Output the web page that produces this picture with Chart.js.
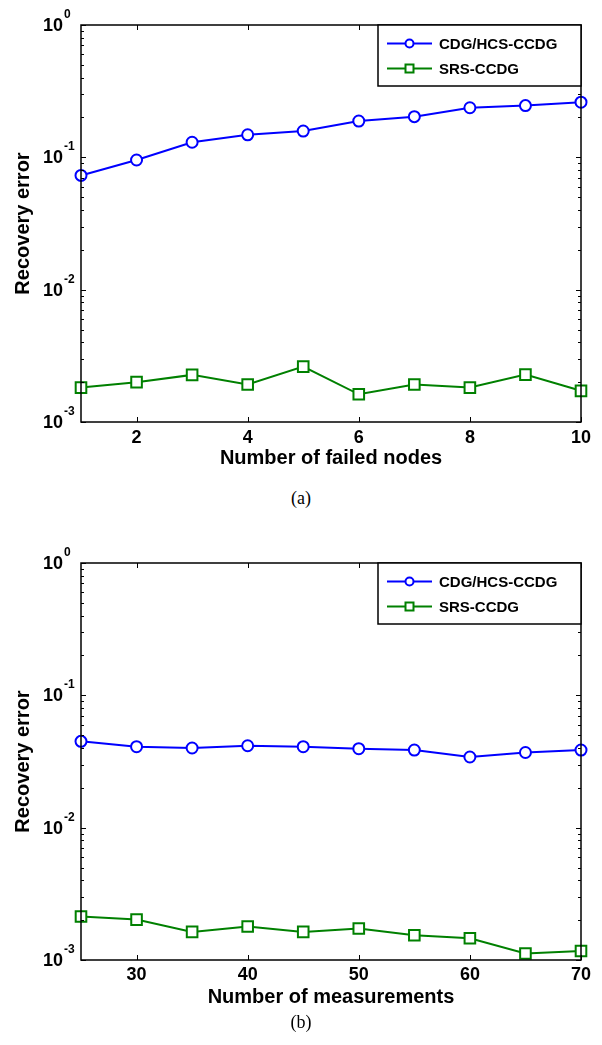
<!DOCTYPE html>
<html>
<head>
<meta charset="utf-8">
<script src="https://cdn.jsdelivr.net/npm/chart.js@4/dist/chart.umd.min.js"></script>
<style>
  body { margin: 0; background: #fff; }
  #page { position: relative; width: 602px; height: 1045px; }
  .box { position: absolute; left: 0; }
  .cap { position: absolute; left: 0; width: 602px; text-align: center;
         font-family: "Liberation Serif", "Times New Roman", serif; font-size: 18px; color: #000; }
</style>
</head>
<body>
<div id="page">
  <div class="box" style="top:0"><canvas id="chartA" width="602" height="480"></canvas></div>
  <div class="cap" style="top:488px">(a)</div>
  <div class="box" style="top:530px"><canvas id="chartB" width="602" height="485"></canvas></div>
  <div class="cap" style="top:1012px">(b)</div>
</div>
<script>
// data
var failedNodes = [1, 2, 3, 4, 5, 6, 7, 8, 9, 10];
var cdgFailed = [0.073, 0.0955, 0.130, 0.148, 0.158, 0.188, 0.203, 0.237, 0.246, 0.261];
var srsFailed = [0.00182, 0.0020, 0.00227, 0.00192, 0.00262, 0.00162, 0.00192, 0.00182, 0.00228, 0.00172];

var measurements = [25, 30, 35, 40, 45, 50, 55, 60, 65, 70];
var cdgMeas = [0.0449, 0.0409, 0.0400, 0.0416, 0.0409, 0.0395, 0.0386, 0.0342, 0.0370, 0.0386];
var srsMeas = [0.00213, 0.00202, 0.00163, 0.00179, 0.00163, 0.00173, 0.00154, 0.00146, 0.00112, 0.00117];

var xTicksFailed = [2, 4, 6, 8, 10];
var xTicksMeas = [30, 40, 50, 60, 70];
var yDecades = [0.001, 0.01, 0.1, 1];
var seriesNames = ['CDG/HCS-CCDG', 'SRS-CCDG'];

var FONT = '"Liberation Sans", Arial, sans-serif';
var BLUE = '#0000ff', GREEN = '#008000';

function pts(xs, ys) {
    return xs.map(function (x, i) { return {x: x, y: ys[i]}; });
}

// frame, inward ticks, y labels with exponents, legend
var matlabAxes = {
    id: 'matlabAxes',
    afterDatasetsDraw: function (chart) {
        var ctx = chart.ctx, a = chart.chartArea;
        var xs = chart.scales.x, ys = chart.scales.y;
        ctx.save();
        ctx.strokeStyle = '#000';
        ctx.lineWidth = 1;
        // x ticks
        xs.ticks.forEach(function (t) {
            var px = Math.round(xs.getPixelForValue(t.value)) + 0.5;
            ctx.beginPath();
            ctx.moveTo(px, a.bottom); ctx.lineTo(px, a.bottom - 5);
            ctx.moveTo(px, a.top); ctx.lineTo(px, a.top + 5);
            ctx.stroke();
        });
        // y ticks, major + minor
        yDecades.forEach(function (d, i) {
            var py = Math.round(ys.getPixelForValue(d)) + 0.5;
            ctx.beginPath();
            ctx.moveTo(a.left, py); ctx.lineTo(a.left + 5, py);
            ctx.moveTo(a.right, py); ctx.lineTo(a.right - 5, py);
            ctx.stroke();
            if (i < yDecades.length - 1) {
                for (var k = 2; k <= 9; k++) {
                    var my = Math.round(ys.getPixelForValue(k * d)) + 0.5;
                    ctx.beginPath();
                    ctx.moveTo(a.left, my); ctx.lineTo(a.left + 3, my);
                    ctx.moveTo(a.right, my); ctx.lineTo(a.right - 3, my);
                    ctx.stroke();
                }
            }
            // label 10^e
            var e = Math.round(Math.log10(d));
            ctx.fillStyle = '#000';
            ctx.textBaseline = 'middle';
            ctx.font = 'bold 18px ' + FONT;
            ctx.textAlign = 'right';
            ctx.fillText('10', a.left - 18, py + 1);
            ctx.font = 'bold 12px ' + FONT;
            ctx.textAlign = 'left';
            ctx.fillText(String(e), a.left - 17, py - 11);
        });
        // frame
        ctx.lineWidth = 1.5;
        ctx.strokeRect(a.left, a.top, a.right - a.left, a.bottom - a.top);

        // legend
        var lx = a.right - 203, ly = a.top;
        ctx.fillStyle = '#fff';
        ctx.fillRect(lx, ly, 203, 61);
        ctx.lineWidth = 1.5;
        ctx.strokeRect(lx, ly, 203, 61);
        chart.data.datasets.forEach(function (ds, i) {
            var ry = ly + 18.5 + i * 25;
            ctx.strokeStyle = ds.borderColor;
            ctx.lineWidth = 2;
            ctx.beginPath();
            ctx.moveTo(lx + 9, ry); ctx.lineTo(lx + 54, ry);
            ctx.stroke();
            ctx.fillStyle = '#fff';
            ctx.beginPath();
            if (ds.pointStyle === 'circle') {
                ctx.arc(lx + 31.5, ry, 4, 0, Math.PI * 2);
            } else {
                ctx.rect(lx + 27.5, ry - 4, 8, 8);
            }
            ctx.fill();
            ctx.stroke();
            ctx.fillStyle = '#000';
            ctx.font = 'bold 15px ' + FONT;
            ctx.textAlign = 'left';
            ctx.textBaseline = 'middle';
            ctx.fillText(ds.label, lx + 61, ry + 1);
        });
        ctx.restore();
    }
};

function makeChart(id, xs, cdg, srs, xTicks, xMin, xMax, xTitle, lay) {
    return new Chart(document.getElementById(id), {
        type: 'line',
        data: {
            datasets: [{
                label: seriesNames[0],
                data: pts(xs, cdg),
                borderColor: BLUE,
                borderWidth: 2,
                pointStyle: 'circle',
                pointRadius: 5.5,
                pointBorderWidth: 2,
                pointBackgroundColor: '#fff',
                pointBorderColor: BLUE,
                tension: 0,
                clip: false
            }, {
                label: seriesNames[1],
                data: pts(xs, srs),
                borderColor: GREEN,
                borderWidth: 2,
                pointStyle: 'rect',
                pointRadius: 7.5,
                pointBorderWidth: 2,
                pointBackgroundColor: '#fff',
                pointBorderColor: GREEN,
                tension: 0,
                clip: false
            }]
        },
        options: {
            responsive: false,
            animation: false,
            layout: { padding: { top: lay.top, right: 21, left: 0, bottom: 0 } },
            plugins: { legend: { display: false }, tooltip: { enabled: false } },
            scales: {
                x: {
                    type: 'linear',
                    min: xMin,
                    max: xMax,
                    grid: { display: false, drawTicks: false },
                    border: { display: false },
                    afterBuildTicks: function (s) {
                        s.ticks = xTicks.map(function (v) { return {value: v}; });
                    },
                    afterFit: function (s) { s.height = lay.axisH; },
                    ticks: {
                        color: '#000',
                        padding: lay.tickPad,
                        maxRotation: 0,
                        font: { family: FONT, size: 18, weight: 'bold' }
                    },
                    title: {
                        display: true,
                        text: xTitle,
                        color: '#000',
                        padding: { top: 0, bottom: lay.titlePad },
                        font: { family: FONT, size: 20, weight: 'bold' }
                    }
                },
                y: {
                    type: 'logarithmic',
                    min: 0.001,
                    max: 1,
                    grid: { display: false, drawTicks: false },
                    border: { display: false },
                    afterBuildTicks: function (s) {
                        s.ticks = yDecades.map(function (v) { return {value: v}; });
                    },
                    afterFit: function (s) { s.width = 81; },
                    ticks: { display: false },
                    title: {
                        display: true,
                        text: 'Recovery error',
                        color: '#000',
                        padding: { top: 11, bottom: 0 },
                        font: { family: FONT, size: 20, weight: 'bold' }
                    }
                }
            }
        },
        plugins: [matlabAxes]
    });
}

makeChart('chartA', failedNodes, cdgFailed, srsFailed, xTicksFailed, 1, 10,
    'Number of failed nodes', { top: 25, axisH: 58, tickPad: 5, titlePad: 10 });
makeChart('chartB', measurements, cdgMeas, srsMeas, xTicksMeas, 25, 70,
    'Number of measurements', { top: 33, axisH: 55, tickPad: 4, titlePad: 6 });
</script>
</body>
</html>
